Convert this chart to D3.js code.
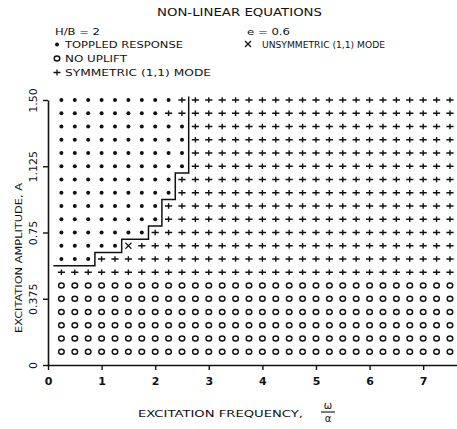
<!DOCTYPE html>
<html>
<head>
<meta charset="utf-8">
<script src="https://cdn.jsdelivr.net/npm/d3@7"></script>
<style>
  body { margin: 0; background: #fff; }
  text { font-family: "DejaVu Sans", sans-serif; fill: #111; }
</style>
</head>
<body>
<script>
// excitation frequency of each grid column (omega / alpha)
var freqs = [0.25, 0.5, 0.75, 1.0, 1.25, 1.5, 1.75, 2.0, 2.25, 2.5,
             2.75, 3.0, 3.25, 3.5, 3.75, 4.0, 4.25, 4.5, 4.75, 5.0,
             5.25, 5.5, 5.75, 6.0, 6.25, 6.5, 6.75, 7.0, 7.25, 7.5];

// excitation amplitude of each grid row, top to bottom
var amps = [1.5, 1.425, 1.35, 1.275, 1.2, 1.125, 1.05, 0.975, 0.9, 0.825,
            0.75, 0.675, 0.6, 0.525, 0.45, 0.375, 0.3, 0.225, 0.15, 0.075];

// response of each row, read left to right as runs of [type, count]
var rowRuns = [
    [["dot", 9], ["plus", 21]],
    [["dot", 8], ["plus", 22]],
    [["dot", 10], ["plus", 20]],
    [["dot", 10], ["plus", 20]],
    [["dot", 10], ["plus", 20]],
    [["dot", 10], ["plus", 20]],
    [["dot", 9], ["plus", 21]],
    [["dot", 9], ["plus", 21]],
    [["dot", 8], ["plus", 22]],
    [["dot", 8], ["plus", 22]],
    [["dot", 7], ["plus", 23]],
    [["dot", 5], ["cross", 1], ["plus", 24]],
    [["dot", 3], ["plus", 27]],
    [["plus", 30]],
    [["circle", 30]],
    [["circle", 30]],
    [["circle", 30]],
    [["circle", 30]],
    [["circle", 30]],
    [["circle", 30]]
];

// toppling boundary (staircase)
var stairX = [0.1, 0.875, 0.875, 1.375, 1.375, 1.875, 1.875, 2.125, 2.125, 2.375, 2.375, 2.625, 2.625];
var stairY = [0.5625, 0.5625, 0.6375, 0.6375, 0.7125, 0.7125, 0.7875, 0.7875, 0.9375, 0.9375, 1.0875, 1.0875, 1.52];

var xTicks = [0, 1, 2, 3, 4, 5, 6, 7];
var yTicks = [0, 0.375, 0.75, 1.125, 1.5];
var yTickLabels = ["0", "0.375", "0.75", "1.125", "1.50"];

function init() {
    var w = 457;
    var h = 429;

    var svg = d3.select("body")
        .append("svg")
        .attr("width", w)
        .attr("height", h);

    var x = d3.scaleLinear().domain([0, 7.65]).range([48, 458]);
    var y = d3.scaleLinear().domain([0, 1.5]).range([365, 100]);

    // expand the runs into one point per grid cell
    var points = [];
    rowRuns.forEach(function(runs, i) {
        var col = 0;
        runs.forEach(function(r) {
            for (var n = 0; n < r[1]; n++) {
                points.push({ f: freqs[col], a: amps[i], type: r[0] });
                col++;
            }
        });
    });

    var ink = "#111";

    // markers
    var g = svg.append("g");
    g.selectAll("circle.dot")
        .data(points.filter(d => d.type === "dot"))
        .enter().append("circle")
        .attr("class", "dot")
        .attr("cx", d => x(d.f))
        .attr("cy", d => y(d.a))
        .attr("r", 2)
        .style("fill", ink);

    g.selectAll("ellipse.ring")
        .data(points.filter(d => d.type === "circle"))
        .enter().append("ellipse")
        .attr("class", "ring")
        .attr("cx", d => x(d.f))
        .attr("cy", d => y(d.a))
        .attr("rx", 2.8)
        .attr("ry", 2.5)
        .style("fill", "none")
        .style("stroke", ink)
        .style("stroke-width", 1.4);

    g.selectAll("path.plus")
        .data(points.filter(d => d.type === "plus"))
        .enter().append("path")
        .attr("class", "plus")
        .attr("d", d => {
            var cx = x(d.f), cy = y(d.a);
            return "M" + (cx - 3.6) + "," + cy + "H" + (cx + 3.6) +
                   "M" + cx + "," + (cy - 2.8) + "V" + (cy + 2.8);
        })
        .style("stroke", ink)
        .style("stroke-width", 1.4);

    g.selectAll("path.cross")
        .data(points.filter(d => d.type === "cross"))
        .enter().append("path")
        .attr("class", "cross")
        .attr("d", d => {
            var cx = x(d.f), cy = y(d.a);
            return "M" + (cx - 3) + "," + (cy - 3) + "L" + (cx + 3) + "," + (cy + 3) +
                   "M" + (cx + 3) + "," + (cy - 3) + "L" + (cx - 3) + "," + (cy + 3);
        })
        .style("stroke", ink)
        .style("stroke-width", 1.1);

    // staircase boundary
    var line = d3.line()
        .x((d, i) => x(stairX[i]))
        .y((d, i) => y(stairY[i]));
    svg.append("path")
        .attr("d", line(stairX))
        .style("fill", "none")
        .style("stroke", ink)
        .style("stroke-width", 1.5);

    // x axis
    var xAxis = svg.append("g")
        .attr("transform", "translate(0," + y(0) + ")")
        .call(d3.axisBottom(x).tickValues(xTicks).tickSize(5).tickSizeOuter(0).tickPadding(7));
    xAxis.select(".domain").style("stroke", ink).style("stroke-width", 1.6);
    xAxis.selectAll(".tick line").style("stroke", ink).style("stroke-width", 1.4);
    xAxis.selectAll("text")
        .style("font-size", "11px")
        .style("font-weight", "bold")
        .style("fill", ink);

    // y axis, labels turned on their side
    var yAxis = svg.append("g")
        .attr("transform", "translate(" + x(0) + ",0)")
        .call(d3.axisLeft(y).tickValues(yTicks).tickSize(5).tickSizeOuter(0)
            .tickFormat((d, i) => yTickLabels[i]));
    yAxis.select(".domain").style("stroke", ink).style("stroke-width", 1.6);
    yAxis.selectAll(".tick line").style("stroke", ink).style("stroke-width", 1.4);
    yAxis.selectAll("text")
        .attr("x", 0)
        .attr("dy", 0)
        .attr("transform", "translate(-11,0) rotate(-90)")
        .attr("text-anchor", "middle")
        .style("font-size", "11px")
        .style("fill", ink);

    // axis titles
    svg.append("text")
        .attr("transform", "translate(22,258) rotate(-90)")
        .attr("text-anchor", "middle")
        .attr("textLength", 150)
        .attr("lengthAdjust", "spacingAndGlyphs")
        .style("font-size", "9.5px")
        .text("EXCITATION AMPLITUDE, A");

    svg.append("text")
        .attr("x", 138).attr("y", 417)
        .attr("textLength", 165)
        .attr("lengthAdjust", "spacingAndGlyphs")
        .style("font-size", "9.5px")
        .text("EXCITATION FREQUENCY,");
    svg.append("text")
        .attr("x", 328).attr("y", 409)
        .attr("text-anchor", "middle")
        .style("font-size", "10px")
        .text("ω");
    svg.append("line")
        .attr("x1", 321).attr("x2", 335)
        .attr("y1", 412).attr("y2", 412)
        .style("stroke", ink).style("stroke-width", 1.1);
    svg.append("text")
        .attr("x", 328).attr("y", 422)
        .attr("text-anchor", "middle")
        .style("font-size", "10px")
        .text("α");

    // title and legend
    function label(tx, ty, str, len, size) {
        svg.append("text")
            .attr("x", tx).attr("y", ty)
            .attr("textLength", len)
            .attr("lengthAdjust", "spacingAndGlyphs")
            .style("font-size", size + "px")
            .text(str);
    }
    label(157, 16, "NON-LINEAR EQUATIONS", 165, 11);
    label(55, 35, "H/B = 2", 45, 9);
    label(65, 48, "TOPPLED RESPONSE", 118, 9);
    label(65, 62, "NO UPLIFT", 62, 9);
    label(65, 76, "SYMMETRIC (1,1) MODE", 146, 9);
    label(247, 35, "e = 0.6", 43, 9);
    label(262, 48, "UNSYMMETRIC (1,1) MODE", 123, 9);

    svg.append("circle").attr("cx", 57).attr("cy", 44.5).attr("r", 2).style("fill", ink);
    svg.append("ellipse").attr("cx", 57).attr("cy", 58.5).attr("rx", 2.8).attr("ry", 2.5)
        .style("fill", "none").style("stroke", ink).style("stroke-width", 1.4);
    svg.append("path").attr("d", "M53.5,72.5H60.5M57,69.5V75.5")
        .style("stroke", ink).style("stroke-width", 1.3);
    svg.append("path").attr("d", "M245,41L251,47M251,41L245,47")
        .style("stroke", ink).style("stroke-width", 1.3);
}

window.onload = init;
</script>
</body>
</html>
